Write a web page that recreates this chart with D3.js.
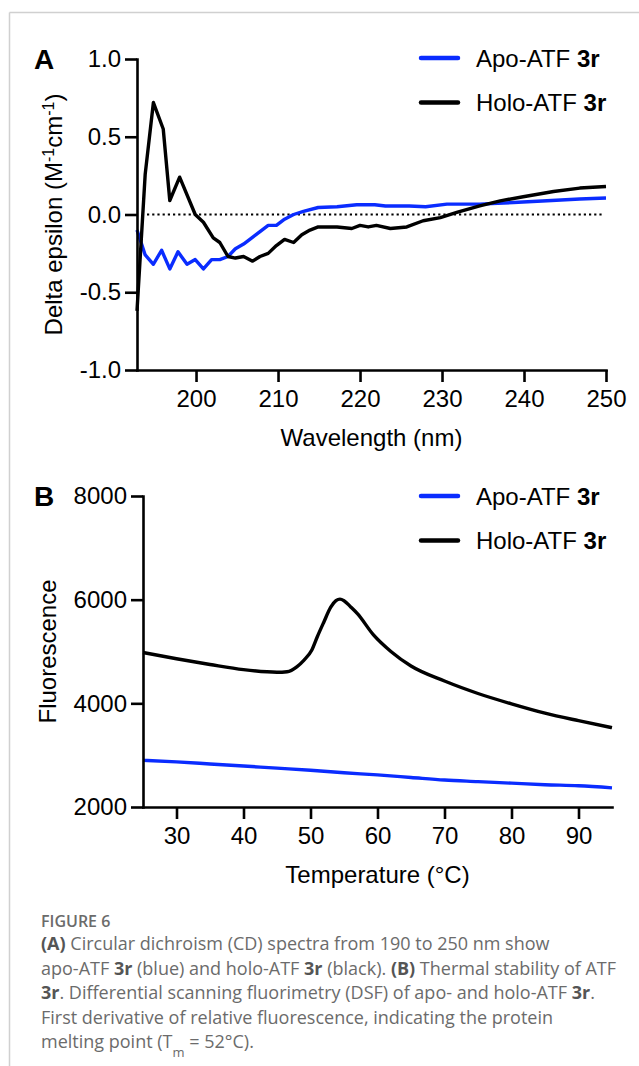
<!DOCTYPE html>
<html>
<head>
<meta charset="utf-8">
<script src="https://cdn.jsdelivr.net/npm/d3@7"></script>
<style>
  body { margin: 0; background: #fff; }
  svg { display: block; }
  .axis path, .axis line { stroke: #000; stroke-width: 2.6px; }
  .axis text { font-family: "Liberation Sans", Arial, sans-serif; font-size: 24px; fill: #000; }
  .lbl { font-family: "Liberation Sans", Arial, sans-serif; font-size: 24px; fill: #000; }
  .cap { font-family: "Open Sans", "Noto Sans", sans-serif; font-size: 18px; fill: #6b6b6b; }
</style>
</head>
<body>
<svg id="fig"></svg>
<script>
const width = 639;
const height = 1066;

// panel A: circular dichroism, wavelength (nm) vs delta epsilon
const cdWave = [192.8, 193.8, 194.8, 195.8, 196.8, 197.8, 198.9, 199.9, 200.9, 201.9, 202.9, 203.9, 204.8, 205.8, 206.8, 207.8, 208.8, 209.8, 210.8, 211.9, 213.1, 214.9, 217.2, 219.6, 221.8, 223.1, 226.0, 228.0, 230.6, 234.6, 238.7, 242.8, 246.8, 250.0];
const apoCD = [-0.10, -0.26, -0.32, -0.23, -0.35, -0.24, -0.32, -0.29, -0.35, -0.29, -0.29, -0.27, -0.22, -0.19, -0.15, -0.11, -0.07, -0.07, -0.03, 0.00, 0.02, 0.045, 0.05, 0.063, 0.063, 0.055, 0.055, 0.05, 0.067, 0.067, 0.077, 0.088, 0.10, 0.106];

const holoWave = [192.8, 193.8, 194.8, 196.0, 196.8, 198.0, 199.9, 200.9, 202.1, 202.9, 203.9, 204.8, 205.8, 206.9, 207.8, 208.8, 209.8, 210.8, 211.9, 212.9, 213.9, 214.9, 217.2, 219.0, 220.0, 221.0, 222.0, 223.7, 225.7, 227.7, 229.8, 231.8, 234.6, 237.1, 239.9, 243.6, 246.8, 250.0];
const holoCD = [-0.62, 0.26, 0.72, 0.55, 0.09, 0.24, 0.0, -0.05, -0.15, -0.18, -0.27, -0.28, -0.27, -0.30, -0.27, -0.25, -0.20, -0.16, -0.18, -0.13, -0.10, -0.08, -0.08, -0.09, -0.07, -0.08, -0.07, -0.09, -0.08, -0.04, -0.02, 0.013, 0.056, 0.088, 0.114, 0.148, 0.17, 0.18];

const cdXTicks = [200, 210, 220, 230, 240, 250];
const cdYTicks = [-1.0, -0.5, 0.0, 0.5, 1.0];

// panel B: DSF, temperature (C) vs fluorescence
const apoTemp = [25, 30, 35, 40, 45, 50, 55, 60, 65, 70, 75, 80, 85, 90, 95];
const apoFluo = [2900, 2870, 2830, 2790, 2750, 2710, 2660, 2620, 2570, 2520, 2490, 2460, 2430, 2410, 2370];

const holoTemp = [25, 30, 35, 40, 45, 46.5, 48, 49, 50.2, 51, 52, 53, 53.8, 54.4, 55, 56, 57, 59.4, 62, 65, 70, 75, 80, 85, 90, 95];
const holoFluo = [4980, 4860, 4750, 4650, 4600, 4610, 4710, 4830, 5030, 5280, 5570, 5850, 5980, 6010, 5980, 5860, 5730, 5320, 5000, 4720, 4430, 4190, 3990, 3810, 3665, 3530];

const dsfXTicks = [30, 40, 50, 60, 70, 80, 90];
const dsfYTicks = [2000, 4000, 6000, 8000];

const seriesNames = ["Apo-ATF ", "Holo-ATF "];
const seriesColors = ["#0a2cff", "#000000"];

const captionLines = [
  [["(A)", "b"], [" Circular dichroism (CD) spectra from 190 to 250 nm show", ""]],
  [["apo-ATF ", ""], ["3r", "b"], [" (blue) and holo-ATF ", ""], ["3r", "b"], [" (black). ", ""], ["(B)", "b"], [" Thermal stability of ATF", ""]],
  [["3r", "b"], [". Differential scanning fluorimetry (DSF) of apo- and holo-ATF ", ""], ["3r", "b"], [".", ""]],
  [["First derivative of relative fluorescence, indicating the protein", ""]],
  [["melting point (T", ""], ["m", "sub"], [" = 52°C).", ""]]
];

const svg = d3.select("#fig").attr("width", width).attr("height", height);

// page frame
svg.append("line").attr("x1", 9.5).attr("x2", width).attr("y1", 12.5).attr("y2", 12.5)
  .attr("stroke", "#d0d0d0").attr("stroke-width", 1.5);
svg.append("line").attr("x1", 9.5).attr("x2", 9.5).attr("y1", 12.5).attr("y2", height)
  .attr("stroke", "#d0d0d0").attr("stroke-width", 1.5);

const drawPanel = (opt) => {
  const x = d3.scaleLinear().domain(opt.xDomain).range([opt.left, opt.right]);
  const y = d3.scaleLinear().domain(opt.yDomain).range([opt.bottom, opt.top]);

  if (opt.zeroLine) {
    svg.append("line")
      .attr("x1", x(opt.xDomain[0]) + 10).attr("x2", x(opt.xDomain[1]) - 4)
      .attr("y1", y(0)).attr("y2", y(0))
      .attr("stroke", "#000").attr("stroke-width", 2.2)
      .attr("stroke-dasharray", "2.2,3");
  }

  const line = d3.line().x(d => x(d[0])).y(d => y(d[1]))
    .curve(opt.smooth ? d3.curveMonotoneX : d3.curveLinear);
  opt.series.forEach((s, i) => {
    svg.append("path")
      .datum(d3.zip(s.xs, s.ys))
      .attr("fill", "none")
      .attr("stroke", seriesColors[i])
      .attr("stroke-width", 3.4)
      .attr("stroke-linejoin", "round")
      .attr("d", line);
  });

  const xAxis = d3.axisBottom(x).tickValues(opt.xTicks).tickSize(12).tickSizeOuter(0).tickPadding(8);
  const yAxis = d3.axisLeft(y).tickValues(opt.yTicks).tickSize(12).tickSizeOuter(0).tickPadding(4)
    .tickFormat(opt.yFormat);

  svg.append("g").attr("class", "axis")
    .attr("transform", "translate(0," + opt.bottom + ")")
    .call(xAxis);
  svg.append("g").attr("class", "axis")
    .attr("transform", "translate(" + opt.left + ",0)")
    .call(yAxis);
  svg.selectAll(".axis path").attr("stroke-linecap", "square");

  // panel letter
  svg.append("text").attr("class", "lbl")
    .attr("x", 34).attr("y", opt.top + 10)
    .style("font-size", "28px").style("font-weight", "bold")
    .text(opt.letter);

  // axis titles
  svg.append("text").attr("class", "lbl")
    .attr("x", (opt.left + opt.right) / 2 + opt.xTitleShift).attr("y", opt.bottom + 76)
    .attr("text-anchor", "middle")
    .text(opt.xTitle);

  const yt = svg.append("text").attr("class", "lbl")
    .attr("transform", "translate(" + opt.yTitleX + "," + (opt.top + opt.bottom) / 2 + ") rotate(-90)")
    .attr("text-anchor", "middle");
  opt.yTitle.forEach(p => {
    const t = yt.append("tspan").text(p[0]);
    if (p[1] === "sup") t.attr("baseline-shift", "super").style("font-size", "16px");
  });

  // legend
  seriesNames.forEach((n, i) => {
    const ly = opt.legendY + i * 44.5;
    svg.append("line")
      .attr("x1", 421).attr("x2", 458).attr("y1", ly).attr("y2", ly)
      .attr("stroke", seriesColors[i]).attr("stroke-width", 4.5)
      .attr("stroke-linecap", "round");
    const t = svg.append("text").attr("class", "lbl")
      .attr("x", 476).attr("y", ly + 8.5)
      .style("font-size", "24px");
    t.append("tspan").text(n);
    t.append("tspan").style("font-weight", "bold").text("3r");
  });
};

drawPanel({
  letter: "A",
  xDomain: [192.8, 250], yDomain: [-1, 1],
  left: 137, right: 606, top: 59, bottom: 370,
  xTicks: cdXTicks, yTicks: cdYTicks,
  yFormat: d => d.toFixed(1),
  series: [{xs: cdWave, ys: apoCD}, {xs: holoWave, ys: holoCD}],
  smooth: false, zeroLine: true,
  xTitle: "Wavelength (nm)", xTitleShift: 0,
  yTitle: [["Delta epsilon (M", ""], ["-1", "sup"], ["cm", ""], ["-1", "sup"], [")", ""]],
  yTitleX: 62,
  legendY: 58
});

drawPanel({
  letter: "B",
  xDomain: [25, 95], yDomain: [2000, 8000],
  left: 143, right: 612, top: 496, bottom: 807,
  xTicks: dsfXTicks, yTicks: dsfYTicks,
  yFormat: d => String(d),
  series: [{xs: apoTemp, ys: apoFluo}, {xs: holoTemp, ys: holoFluo}],
  smooth: true, zeroLine: false,
  xTitle: "Temperature (°C)", xTitleShift: 0,
  yTitle: [["Fluorescence", ""]],
  yTitleX: 56,
  legendY: 496
});

// caption
svg.append("text").attr("class", "cap")
  .attr("x", 41).attr("y", 927)
  .style("font-size", "16px").style("font-weight", "600")
  .text("FIGURE 6");

captionLines.forEach((parts, i) => {
  const t = svg.append("text").attr("class", "cap")
    .attr("x", 41).attr("y", 950 + i * 24.5);
  parts.forEach(p => {
    const s = t.append("tspan").text(p[0]);
    if (p[1] === "b") s.style("font-weight", "bold").style("fill", "#555");
    if (p[1] === "sub") s.attr("baseline-shift", "sub").style("font-size", "13px");
  });
});
</script>
</body>
</html>
